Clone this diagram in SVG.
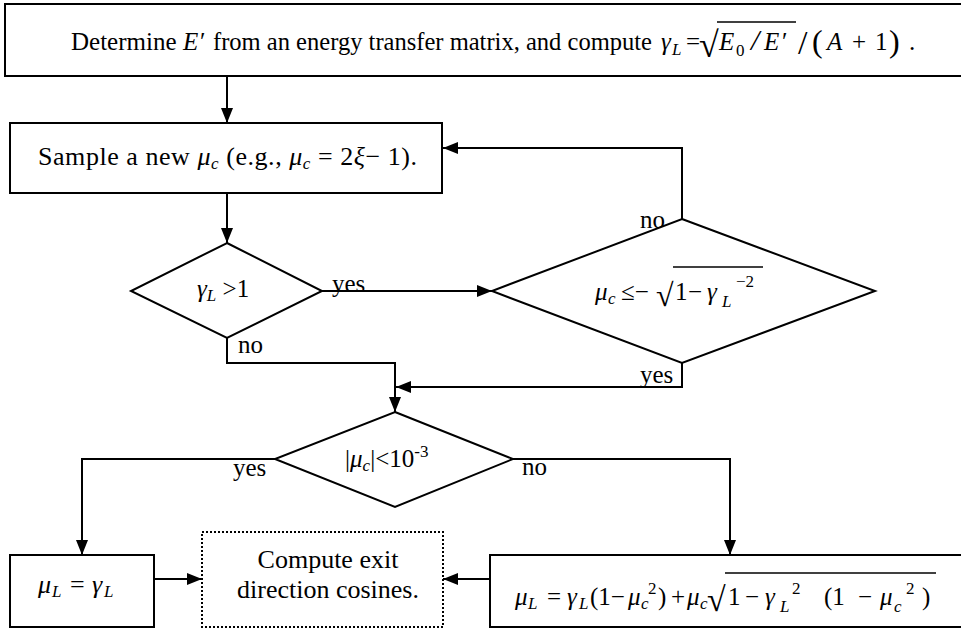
<svg xmlns="http://www.w3.org/2000/svg" width="961" height="630" viewBox="0 0 961 630">
<defs>
<marker id="ah" markerUnits="userSpaceOnUse" markerWidth="16" markerHeight="12" refX="15" refY="6" orient="auto">
<path d="M0,0 L15,6 L0,12 Z" fill="#000"/>
</marker>
<style>
.box{fill:#fff;stroke:#000;stroke-width:2}
.dot{fill:#fff;stroke:#000;stroke-width:2;stroke-dasharray:2 2}
.ln{fill:none;stroke:#000;stroke-width:2}
.bar{stroke:#000;stroke-width:1.3}
text{font-family:"Liberation Serif","Times New Roman",serif;font-size:25px;fill:#000}
.i{font-style:italic}
.s{font-size:17px}
.b{font-size:26px}
</style>
</defs>
<rect width="961" height="630" fill="#fff"/>

<g id="connectors">
<line class="ln" x1="227" y1="76" x2="227" y2="123" marker-end="url(#ah)"/>
<line class="ln" x1="227" y1="193" x2="227" y2="243" marker-end="url(#ah)"/>
<line class="ln" x1="322" y1="291" x2="492" y2="291" marker-end="url(#ah)"/>
<polyline class="ln" points="682,219 682,148 443,148" marker-end="url(#ah)"/>
<polyline class="ln" points="682,363 682,387 396,387" marker-end="url(#ah)"/>
<polyline class="ln" points="227,338 227,363 395,363 395,412" marker-end="url(#ah)"/>
<polyline class="ln" points="275,459 82,459 82,555" marker-end="url(#ah)"/>
<polyline class="ln" points="513,459 730,459 730,555" marker-end="url(#ah)"/>
<line class="ln" x1="154" y1="579" x2="202" y2="579" marker-end="url(#ah)"/>
<line class="ln" x1="490" y1="579" x2="443" y2="579" marker-end="url(#ah)"/>
<text x="332" y="292">yes</text>
<text x="640" y="228">no</text>
<text x="640" y="383">yes</text>
<text x="238" y="353">no</text>
<text x="233" y="476">yes</text>
<text x="522" y="475">no</text>
</g>

<g id="n-top">
<rect class="box" x="5" y="4" width="970" height="72"/>
<text x="71" y="50">Determine</text>
<text x="183" y="50" class="i">E</text>
<text x="200" y="50">′</text>
<text x="213" y="50" textLength="439" lengthAdjust="spacingAndGlyphs">from an energy transfer matrix, and compute</text>
<text x="661" y="50" class="i">γ</text>
<text x="672" y="55" class="i s">L</text>
<text x="686" y="50">=</text>
<text x="699" y="57" style="font-size:36px">√</text>
<line class="bar" x1="717" y1="22" x2="796" y2="22"/>
<text x="719" y="50" class="i">E</text>
<text x="736" y="56" class="s">0</text>
<text x="751" y="50" class="i" style="font-size:30px">/</text>
<text x="764" y="50" class="i">E</text>
<text x="782" y="50">′</text>
<text x="798" y="54" style="font-size:34px">/</text>
<text x="812" y="52" style="font-size:32px">(</text>
<text x="827" y="50" class="i">A</text>
<text x="852" y="50">+</text>
<text x="875" y="50">1</text>
<text x="889" y="52" style="font-size:32px">)</text>
<text x="909" y="50">.</text>
</g>

<g id="n-sample">
<rect class="box" x="10" y="123" width="432" height="70"/>
<text x="38" y="165" class="b" textLength="379" lengthAdjust="spacing">Sample a new <tspan class="i">μ</tspan><tspan class="i s" dy="4">c</tspan><tspan dy="-4">  (e.g., </tspan><tspan class="i">μ</tspan><tspan class="i s" dy="4">c</tspan><tspan dy="-4"> = 2</tspan><tspan class="i">ξ</tspan><tspan>− 1).</tspan></text>
</g>

<g id="n-gamma">
<polygon class="box" points="227,243 322,291 227,338 131,291"/>
<text x="197" y="297"><tspan class="i">γ</tspan><tspan class="i s" dy="4">L</tspan><tspan dy="-4"> &gt;1</tspan></text>
</g>

<g id="n-muc">
<polygon class="box" points="682,219 875,291 682,363 492,291"/>
<text x="595" y="300" class="i">μ</text>
<text x="608" y="304" class="i s">c</text>
<text x="621" y="300">≤−</text>
<text x="656" y="306" style="font-size:32px">√</text>
<line class="bar" x1="673" y1="267" x2="763" y2="267"/>
<text x="675" y="300">1</text>
<text x="688" y="300">−</text>
<text x="707" y="300" class="i">γ</text>
<text x="722" y="307" class="i s">L</text>
<text x="736" y="287" class="s">−2</text>
</g>

<g id="n-abs">
<polygon class="box" points="395,412 513,459 395,507 275,459"/>
<text x="345" y="467">|<tspan class="i">μ</tspan><tspan class="i s" dy="4">c</tspan><tspan dy="-4">|&lt;10</tspan><tspan class="s" dy="-10">-3</tspan></text>
</g>

<g id="n-mul1">
<rect class="box" x="10" y="555" width="144" height="72"/>
<text x="38" y="593" class="i b">μ</text>
<text x="52" y="597" class="i s">L</text>
<text x="70" y="593" class="b">=</text>
<text x="92" y="593" class="i b">γ</text>
<text x="104" y="597" class="i s">L</text>
</g>

<g id="n-exit">
<rect class="dot" x="202" y="532" width="241" height="95"/>
<text x="328" y="568" class="b" text-anchor="middle">Compute exit</text>
<text x="328" y="598" class="b" text-anchor="middle">direction cosines.</text>
</g>

<g id="n-mul2">
<rect class="box" x="490" y="555" width="480" height="72"/>
<text x="515" y="605" class="i">μ</text>
<text x="528" y="609" class="i s">L</text>
<text x="547" y="605">=</text>
<text x="567" y="605" class="i">γ</text>
<text x="579" y="609" class="i s">L</text>
<text x="590" y="605">(1−</text>
<text x="628" y="605" class="i">μ</text>
<text x="641" y="609" class="i s">c</text>
<text x="648" y="594" class="s">2</text>
<text x="658" y="605">)</text>
<text x="671" y="605">+</text>
<text x="687" y="605" class="i">μ</text>
<text x="700" y="609" class="i s">c</text>
<text x="707" y="611" style="font-size:34px">√</text>
<line class="bar" x1="725" y1="573" x2="936" y2="573"/>
<text x="728" y="605">1</text>
<text x="745" y="605">−</text>
<text x="765" y="605" class="i">γ</text>
<text x="780" y="612" class="i s">L</text>
<text x="792" y="594" class="s">2</text>
<text x="824" y="605">(1</text>
<text x="858" y="605">−</text>
<text x="880" y="605" class="i">μ</text>
<text x="894" y="612" class="i s">c</text>
<text x="906" y="594" class="s">2</text>
<text x="922" y="605">)</text>
</g>
</svg>
